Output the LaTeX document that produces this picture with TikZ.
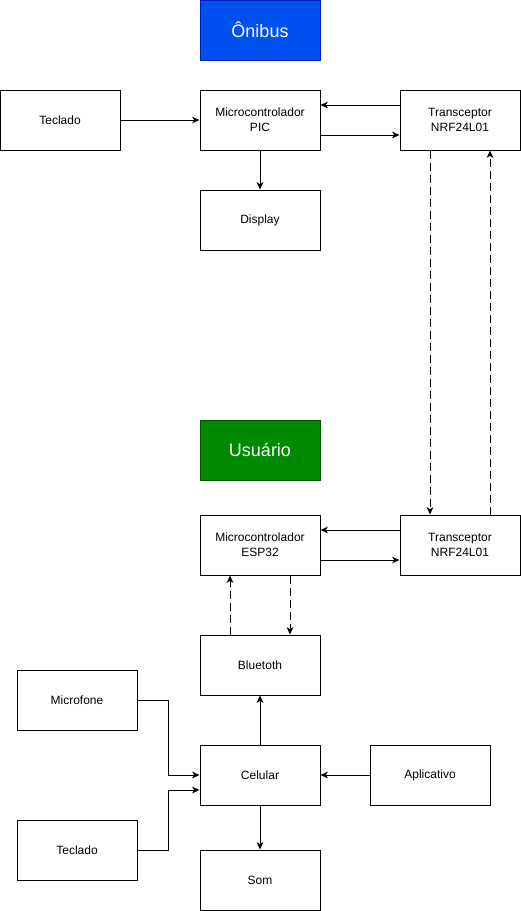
\documentclass[tikz,border=0pt]{standalone}
\usepackage{fontspec}
\setmainfont{Liberation Sans}
\usetikzlibrary{arrows.meta}
\definecolor{azulOnibus}{HTML}{0050EF}
\definecolor{azulBorda}{HTML}{001DBC}
\definecolor{verdeUsuario}{HTML}{008A00}
\definecolor{verdeBorda}{HTML}{005700}
\tikzset{
	bloco/.style={draw, line width=0.75pt, minimum width=90pt, minimum height=45pt, inner sep=0pt, align=center, font=\fontsize{9}{11}\selectfont},
	titulo/.style={bloco, text=white, font=\fontsize{13.5}{16}\selectfont},
	seta/.style={line width=0.75pt, -{Stealth[length=5.5pt, width=5pt, inset=1.5pt]}},
	tracejada/.style={seta, dash pattern=on 6pt off 3pt}
}
\begin{document}
\begin{tikzpicture}[x=0.75pt,y=0.75pt,yscale=-1,xscale=1]
	\useasboundingbox (0,0) rectangle (521,911);
	%Titles
	\node [titulo, fill=azulOnibus, draw=azulBorda] (onibus) at (260,30) {Ônibus};
	\node [titulo, fill=verdeUsuario, draw=verdeBorda] (usuario) at (260,450) {Usuário};
	%Bus side
	\node [bloco] (teclado1) at (60,120) {Teclado};
	\node [bloco] (pic) at (260,120) {Microcontrolador\\PIC};
	\node [bloco] (trans1) at (460,120) {Transceptor\\NRF24L01};
	\node [bloco] (display) at (260,220) {Display};
	%User side
	\node [bloco] (esp) at (260,545) {Microcontrolador\\ESP32};
	\node [bloco] (trans2) at (460,545) {Transceptor\\NRF24L01};
	\node [bloco] (bluetooth) at (260,665) {Bluetoth};
	\node [bloco] (microfone) at (77,700) {Microfone};
	\node [bloco] (celular) at (260,775) {Celular};
	\node [bloco] (aplicativo) at (430,775) {Aplicativo};
	\node [bloco] (teclado2) at (77,850) {Teclado};
	\node [bloco] (som) at (260,880) {Som};
	%Connectors (bus)
	\draw [seta] (teclado1.east) -- (pic.west);
	\draw [seta] ([yshift=-11.25pt]trans1.west) -- ([yshift=-11.25pt]pic.east);
	\draw [seta] ([yshift=11.25pt]pic.east) -- ([yshift=11.25pt]trans1.west);
	\draw [seta] (pic.south) -- (display.north);
	%Radio link
	\draw [tracejada] ([xshift=-22.5pt]trans1.south) -- ([xshift=-22.5pt]trans2.north);
	\draw [tracejada] ([xshift=22.5pt]trans2.north) -- ([xshift=22.5pt]trans1.south);
	%Connectors (user)
	\draw [seta] ([yshift=-11.25pt]trans2.west) -- ([yshift=-11.25pt]esp.east);
	\draw [seta] ([yshift=11.25pt]esp.east) -- ([yshift=11.25pt]trans2.west);
	\draw [tracejada] ([xshift=-22.5pt]bluetooth.north) -- ([xshift=-22.5pt]esp.south);
	\draw [tracejada] ([xshift=22.5pt]esp.south) -- ([xshift=22.5pt]bluetooth.north);
	\draw [seta] (celular.north) -- (bluetooth.south);
	\draw [seta] (microfone.east) -- ++(31,0) |- (celular.west);
	\draw [seta] (teclado2.east) -- ++(31,0) |- ([yshift=11.25pt]celular.west);
	\draw [seta] (aplicativo.west) -- (celular.east);
	\draw [seta] (celular.south) -- (som.north);
\end{tikzpicture}
\end{document}
